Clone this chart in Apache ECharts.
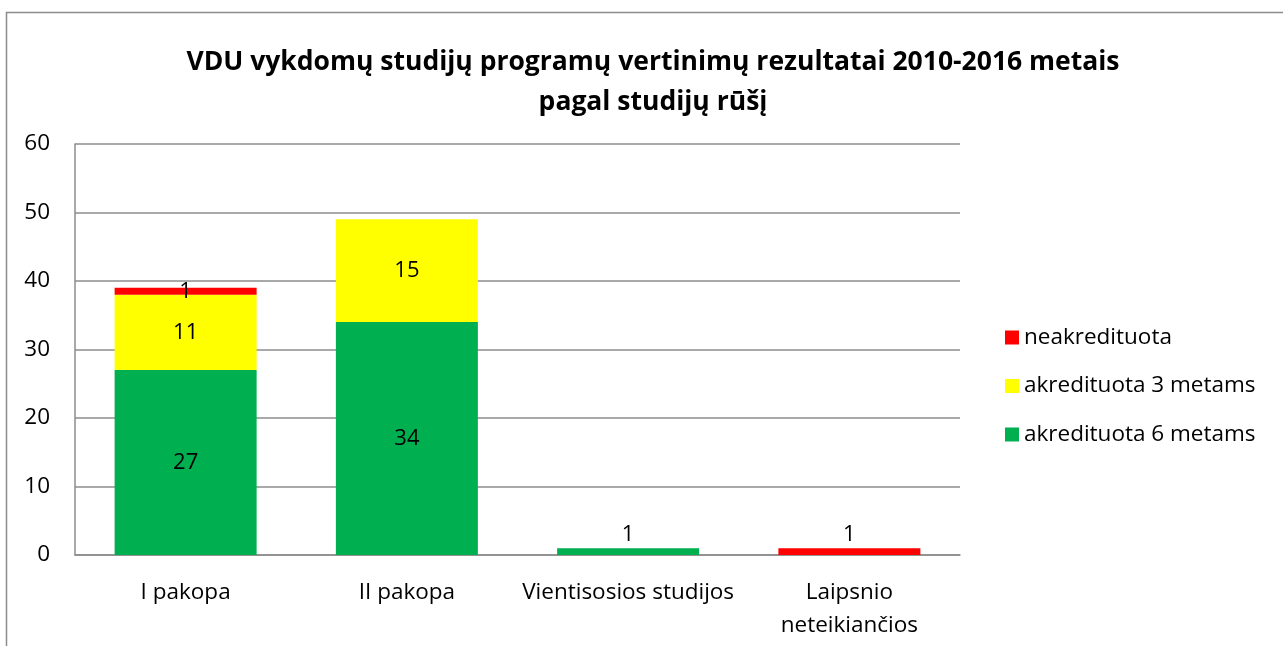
<!DOCTYPE html>
<html>
<head>
<meta charset="utf-8">
<script src="https://cdn.jsdelivr.net/npm/echarts@6/dist/echarts.min.js"></script>
<style>
  html, body { margin: 0; padding: 0; background: #fff; }
  #chart { width: 1283px; height: 646px; }
</style>
</head>
<body>
<div id="chart"></div>
<script>
var categories = ['I pakopa', 'II pakopa', 'Vientisosios studijos', 'Laipsnio\nneteikiančios'];
var seriesNames = ['neakredituota', 'akredituota 3 metams', 'akredituota 6 metams'];
var neakredituota = [1, null, null, 1];
var akredituota3 = [11, 15, null, null];
var akredituota6 = [27, 34, 1, null];
var yTicks = [0, 10, 20, 30, 40, 50, 60];

var font = 'Open Sans';

// mazi stulpeliai - etikete virs stulpelio
function withTopLabel(arr, idxs) {
  return arr.map(function (v, i) {
    if (idxs.indexOf(i) >= 0) return { value: v, label: { position: 'top', distance: 2 } };
    return v;
  });
}

var lbl = { show: true, position: 'inside', color: '#000', fontSize: 22, fontFamily: font };

var option = {
  animation: false,
  graphic: [{
    type: 'rect',
    shape: { x: 6.5, y: 12.5, width: 1400, height: 800 },
    style: { fill: 'none', stroke: '#8c8c8c', lineWidth: 1.5 },
    silent: true
  }],
  title: {
    text: 'VDU vykdomų studijų programų vertinimų rezultatai 2010-2016 metais\npagal studijų rūšį',
    left: 648,
    textAlign: 'center',
    top: 37,
    textStyle: { fontFamily: font, fontSize: 26.5, fontWeight: 'bold', color: '#000', lineHeight: 40 }
  },
  legend: {
    orient: 'vertical',
    left: 1000,
    top: 321,
    itemWidth: 14,
    itemHeight: 14,
    itemGap: 25.5,
    icon: 'rect',
    data: seriesNames,
    textStyle: { fontFamily: font, fontSize: 22.5, color: '#000' }
  },
  grid: { left: 75, right: 323, top: 144, bottom: 91 },
  xAxis: {
    type: 'category',
    data: categories,
    axisTick: { show: false },
    axisLine: { lineStyle: { color: '#8c8c8c', width: 1.5 } },
    axisLabel: { interval: 0, fontFamily: font, fontSize: 22.5, color: '#000', margin: 21, lineHeight: 33 }
  },
  yAxis: {
    type: 'value',
    min: 0,
    max: 60,
    interval: 10,
    axisLine: { show: true, lineStyle: { color: '#8c8c8c', width: 1.5 } },
    axisTick: { show: false },
    splitLine: { lineStyle: { color: '#8c8c8c', width: 1.5 } },
    axisLabel: {
      fontFamily: font, fontSize: 22.5, color: '#000', margin: 25,
      formatter: function (v) { return yTicks.indexOf(v) >= 0 ? String(v) : ''; }
    }
  },
  series: [
    {
      name: seriesNames[2], type: 'bar', stack: 'total', barWidth: 142,
      itemStyle: { color: '#00b050' }, label: lbl,
      data: withTopLabel(akredituota6, [2])
    },
    {
      name: seriesNames[1], type: 'bar', stack: 'total', barWidth: 142,
      itemStyle: { color: '#ffff00' }, label: lbl,
      data: akredituota3
    },
    {
      name: seriesNames[0], type: 'bar', stack: 'total', barWidth: 142,
      itemStyle: { color: '#ff0000' }, label: lbl,
      data: withTopLabel(neakredituota, [3])
    }
  ]
};

var myChart = echarts.init(document.getElementById('chart'));
myChart.setOption(option);
</script>
</body>
</html>
